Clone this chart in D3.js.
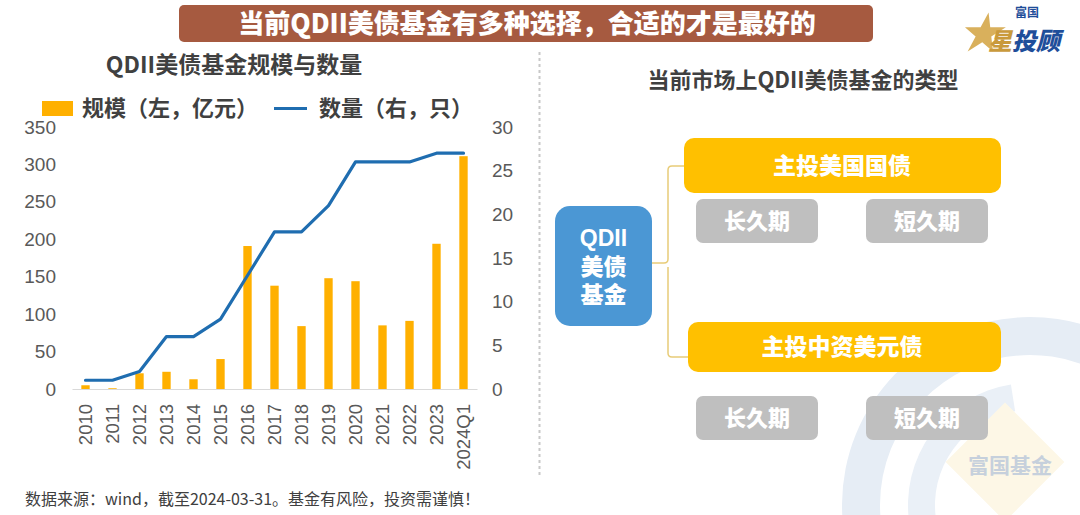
<!DOCTYPE html>
<html>
<head>
<meta charset="utf-8">
<script src="https://cdn.jsdelivr.net/npm/d3@7"></script>
<style>
  body { margin: 0; background: #fff; }
  svg { display: block; font-family: "Noto Sans CJK SC", "Noto Sans", sans-serif; }
</style>
</head>
<body>
<svg id="chart" width="1080" height="515"></svg>
<script>
// data
const years = ['2010', '2011', '2012', '2013', '2014', '2015', '2016', '2017', '2018', '2019', '2020', '2021', '2022', '2023', '2024Q1'];
const scale = [5, 1, 21, 23, 13, 40, 191, 138, 84, 148, 144, 85, 91, 194, 311];   // 规模, 亿元
const counts = [1, 1, 2, 6, 6, 8, 13, 18, 18, 21, 26, 26, 26, 27, 27];            // 数量, 只
const leftTicks = [0, 50, 100, 150, 200, 250, 300, 350];
const rightTicks = [0, 5, 10, 15, 20, 25, 30];
const legendLabels = ['规模（左，亿元）', '数量（右，只）'];
const rootLines = ['QDII', '美债', '基金'];
const durations = ['长久期', '短久期'];
const categories = ['主投美国国债', '主投中资美元债'];

const svg = d3.select('#chart');
const numFont = '"Liberation Sans", Arial, sans-serif';

// faint watermark bottom-right
const wm = svg.append('g').attr('class', 'watermark');
wm.append('path')
  .attr('transform', 'translate(1030,505)')
  .attr('d', d3.arc().innerRadius(150).outerRadius(188).startAngle(-Math.PI * 0.62).endAngle(Math.PI * 0.35)())
  .attr('fill', '#e6edf5');
wm.append('path')
  .attr('transform', 'translate(1030,505)')
  .attr('d', d3.arc().innerRadius(95).outerRadius(122).startAngle(-Math.PI * 0.55).endAngle(-Math.PI * 0.05)())
  .attr('fill', '#eaf0f7');
wm.append('rect')
  .attr('x', -42).attr('y', -42).attr('width', 84).attr('height', 84)
  .attr('transform', 'translate(1005,462) rotate(45)')
  .attr('fill', '#fdf7e6');
wm.append('text')
  .attr('x', 1010).attr('y', 473)
  .attr('text-anchor', 'middle')
  .attr('font-size', 21).attr('font-weight', 700)
  .attr('fill', '#c6d0dc')
  .text('富国基金');

// title banner
svg.append('rect')
  .attr('x', 179).attr('y', 5).attr('width', 694).attr('height', 37).attr('rx', 5)
  .attr('fill', '#a65a40');
svg.append('text')
  .attr('x', 527).attr('y', 33)
  .attr('text-anchor', 'middle')
  .attr('font-size', 26).attr('font-weight', 900)
  .attr('fill', '#fff')
  .text('当前QDII美债基金有多种选择，合适的才是最好的');

// logo top-right
const logo = svg.append('g');
logo.append('path')
  .attr('d', d3.symbol(d3.symbolStar, 520)())
  .attr('transform', 'translate(984,34) skewX(-12)')
  .attr('fill', '#d9b05c');
logo.append('text')
  .attr('x', 1027).attr('y', 17)
  .attr('text-anchor', 'middle')
  .attr('font-size', 12).attr('font-weight', 700)
  .attr('fill', '#1f4e9a')
  .text('富国');
logo.append('text')
  .attr('x', 988).attr('y', 50)
  .attr('font-size', 24).attr('font-weight', 900).attr('font-style', 'italic')
  .attr('fill', '#c99a3c')
  .text('星');
logo.append('text')
  .attr('x', 1012).attr('y', 50)
  .attr('font-size', 24).attr('font-weight', 900).attr('font-style', 'italic')
  .attr('fill', '#1f4e9a')
  .text('投顾');

// dashed separator
svg.append('line')
  .attr('x1', 539.5).attr('x2', 539.5).attr('y1', 52).attr('y2', 477)
  .attr('stroke', '#c8c8c8').attr('stroke-width', 2)
  .attr('stroke-dasharray', '3 3');

// ---- left chart ----
svg.append('text')
  .attr('x', 234).attr('y', 73)
  .attr('text-anchor', 'middle')
  .attr('font-size', 23).attr('font-weight', 700)
  .attr('fill', '#404040')
  .text('QDII美债基金规模与数量');

const x = d3.scaleBand().domain(years).range([72, 477]).paddingInner(0.69).paddingOuter(0.345);
const yL = d3.scaleLinear().domain([0, 350]).range([389, 127]);
const yR = d3.scaleLinear().domain([0, 30]).range([389, 127]);

const leftAxis = svg.append('g')
  .attr('transform', 'translate(62,0)')
  .call(d3.axisLeft(yL).tickValues(leftTicks).tickSize(0).tickPadding(6));
const rightAxis = svg.append('g')
  .attr('transform', 'translate(486,0)')
  .call(d3.axisRight(yR).tickValues(rightTicks).tickSize(0).tickPadding(6));
for (const ax of [leftAxis, rightAxis]) {
  ax.select('.domain').remove();
  ax.selectAll('text')
    .attr('font-family', numFont).attr('font-size', 19).attr('fill', '#595959');
}

svg.selectAll('.bar')
  .data(years)
  .enter().append('rect')
  .attr('class', 'bar')
  .attr('x', (d) => x(d))
  .attr('width', x.bandwidth())
  .attr('y', (d, i) => yL(scale[i]))
  .attr('height', (d, i) => yL(0) - yL(scale[i]))
  .attr('fill', '#ffb000');

const bottomAxis = svg.append('g')
  .attr('transform', `translate(0,${yL(0)})`)
  .call(d3.axisBottom(x).tickSize(0).tickPadding(0));
bottomAxis.select('.domain').attr('stroke', '#d9d9d9').attr('stroke-width', 1);
bottomAxis.selectAll('text')
  .attr('font-family', numFont).attr('font-size', 18.5).attr('fill', '#595959')
  .attr('text-anchor', 'end')
  .attr('dy', '0.35em')
  .attr('transform', 'translate(0,15) rotate(-90)');

const line = d3.line()
  .x((d, i) => x(years[i]) + x.bandwidth() / 2)
  .y((d) => yR(d));
svg.append('path')
  .datum(counts)
  .attr('d', line)
  .attr('fill', 'none')
  .attr('stroke', '#1f6db0')
  .attr('stroke-width', 3.2)
  .attr('stroke-linejoin', 'round')
  .attr('stroke-linecap', 'round');

// legend
svg.append('rect').attr('x', 42).attr('y', 101).attr('width', 31).attr('height', 15).attr('fill', '#ffb000');
svg.append('text')
  .attr('x', 82).attr('y', 116)
  .attr('font-size', 22).attr('font-weight', 700).attr('fill', '#404040')
  .text(legendLabels[0]);
svg.append('line')
  .attr('x1', 274).attr('x2', 307).attr('y1', 108.5).attr('y2', 108.5)
  .attr('stroke', '#1f6db0').attr('stroke-width', 3.2);
svg.append('text')
  .attr('x', 319).attr('y', 116)
  .attr('font-size', 22).attr('font-weight', 700).attr('fill', '#404040')
  .text(legendLabels[1]);

// footer
svg.append('text')
  .attr('x', 25).attr('y', 505)
  .attr('font-size', 16).attr('fill', '#404040')
  .text('数据来源：wind，截至2024-03-31。基金有风险，投资需谨慎！');

// ---- right diagram ----
svg.append('text')
  .attr('x', 803).attr('y', 88)
  .attr('text-anchor', 'middle')
  .attr('font-size', 22).attr('font-weight', 700)
  .attr('fill', '#404040')
  .text('当前市场上QDII美债基金的类型');

svg.append('rect')
  .attr('x', 555).attr('y', 206).attr('width', 97).attr('height', 120).attr('rx', 15)
  .attr('fill', '#4b97d4');
// stacked label: Liberation first keeps the line boxes tight, CJK glyphs fall back
svg.selectAll('.rootLabel')
  .data(rootLines)
  .enter().append('text')
  .attr('class', 'rootLabel')
  .attr('x', 603.5)
  .attr('y', (d, i) => 246 + i * 28.5)
  .attr('text-anchor', 'middle')
  .attr('font-family', '"Liberation Sans", "Noto Sans CJK SC", sans-serif')
  .attr('font-size', 23).attr('font-weight', 900)
  .attr('fill', '#fff')
  .text((d) => d);

// bracket
svg.append('path')
  .attr('d', 'M652,263 H664 Q668,263 668,259 V170 Q668,166 672,166 H684 M668,267 V353 Q668,357 672,357 H688')
  .attr('fill', 'none')
  .attr('stroke', '#e8cc78')
  .attr('stroke-width', 1.5);

const catBoxes = [
  { x: 684, y: 138, w: 317, h: 55, cy: 165.5, sub: 199 },
  { x: 688, y: 322, w: 313, h: 50, cy: 347, sub: 396 },
];
catBoxes.forEach((b, i) => {
  svg.append('rect')
    .attr('x', b.x).attr('y', b.y).attr('width', b.w).attr('height', b.h).attr('rx', 10)
    .attr('fill', '#ffc000');
  svg.append('text')
    .attr('x', 842).attr('y', b.cy)
    .attr('dy', '0.36em')
    .attr('text-anchor', 'middle')
    .attr('font-size', 23).attr('font-weight', 900)
    .attr('fill', '#fff')
    .text(categories[i]);
  durations.forEach((d, j) => {
    const bx = 696 + j * 170;
    svg.append('rect')
      .attr('x', bx).attr('y', b.sub).attr('width', 122).attr('height', 44).attr('rx', 7)
      .attr('fill', '#bfbfbf');
    svg.append('text')
      .attr('x', bx + 61).attr('y', b.sub + 22)
      .attr('dy', '0.36em')
      .attr('text-anchor', 'middle')
      .attr('font-size', 22).attr('font-weight', 900)
      .attr('fill', '#fff')
      .text(d);
  });
});
</script>
</body>
</html>
